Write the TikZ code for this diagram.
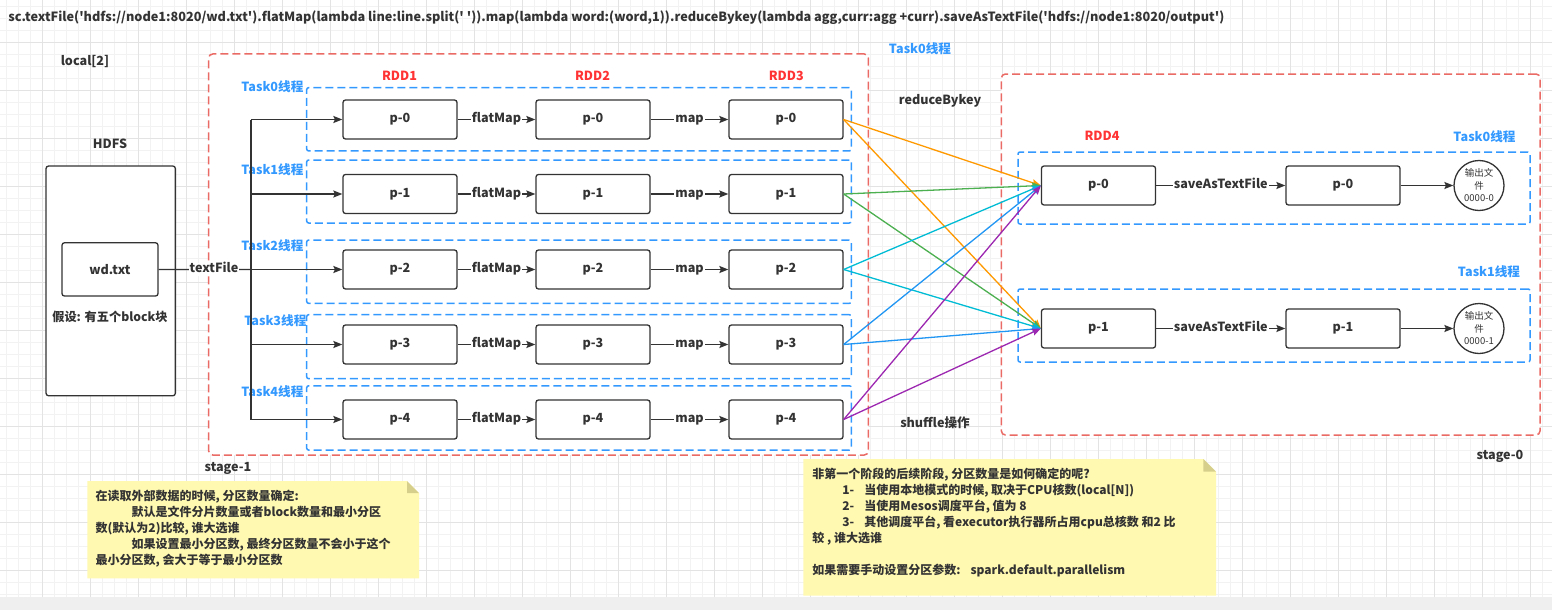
\documentclass[tikz,border=0pt]{standalone}
\usepackage{fontspec}
\setmainfont{Noto Sans CJK SC}
\usetikzlibrary{arrows.meta}

\definecolor{inkgray}{HTML}{333333}
\definecolor{stagered}{HTML}{EA6B66}
\definecolor{rddred}{HTML}{FF3333}
\definecolor{taskblue}{HTML}{3399FF}
\definecolor{notefill}{HTML}{FFF9B2}
\definecolor{notefold}{HTML}{D6CF8C}
\definecolor{gridminor}{HTML}{F2F2F2}
\definecolor{gridmajor}{HTML}{E3E3E3}
\definecolor{pagegray}{HTML}{EFEFEF}
\definecolor{shufora}{HTML}{FF9900}
\definecolor{shufgre}{HTML}{4CAF50}
\definecolor{shufcya}{HTML}{00BCD4}
\definecolor{shufblu}{HTML}{2196F3}
\definecolor{shufpur}{HTML}{9C27B0}

\begin{document}
\begin{tikzpicture}[x=1pt,y=-1pt,>={Stealth[length=9pt,width=7pt,inset=1.5pt]},line width=1.3pt,color=inkgray,
  node distance=193pt,font=\bfseries\fontsize{12.6}{15}\selectfont,
  pbox/.style={draw=inkgray,fill=white,rounded corners=2.5pt,minimum width=114pt,minimum height=39pt},
  stagebox/.style={draw=stagered,fill=white,dash pattern=on 8pt off 4pt,line width=1.5pt,rounded corners=4pt},
  taskbox/.style={draw=taskblue,dash pattern=on 8pt off 4pt,line width=1.5pt,rounded corners=2pt},
  tasklabel/.style={text=taskblue,anchor=east,inner sep=0pt},
  rddlabel/.style={text=rddred},
  elabel/.style={fill=white,inner sep=1pt,text height=8.5pt,text depth=2.5pt},
  outfile/.style={draw=inkgray,fill=white,circle,minimum size=50pt,inner sep=0pt,align=center,font=\fontsize{9.5}{12.5}\selectfont},
  notetext/.style={anchor=north west,align=left,inner sep=0pt,font=\bfseries\fontsize{12}{16}\selectfont}]

\useasboundingbox (0,0) rectangle (1552,610);
\fill[white] (0,0) rectangle (1552,597);
\fill[pagegray] (0,597) rectangle (1552,610);
\draw[gridminor,line width=0.6pt,step=12pt,shift={(6.7,6.3)}] (-6.7,-6.3) grid (1545.3,590.7);
\draw[gridmajor,line width=0.6pt,step=48pt,shift={(42.7,42.3)}] (-42.7,-42.3) grid (1509.3,554.7);

\node[anchor=west,inner sep=0pt,font=\bfseries\fontsize{12.7}{15}\selectfont] (code) at (7.7,17.3) {sc.textFile(\textquotesingle hdfs://node1:8020/wd.txt\textquotesingle).flatMap(lambda line:line.split(\textquotesingle\ \textquotesingle)).map(lambda word:(word,1)).reduceBykey(lambda agg,curr:agg +curr).saveAsTextFile(\textquotesingle hdfs://node1:8020/output\textquotesingle)};
\node (local) at (85,61) {local[2]};

\node[stagebox,minimum width=659.6pt,minimum height=401pt] (stage1) at (538.5,254.5) {};
\node[stagebox,minimum width=538.6pt,minimum height=361pt] (stage0) at (1270.7,254.5) {};
\node (stage1label) at (228,468) {stage-1};
\node (stage0label) at (1500,456) {stage-0};

\node[taskbox,minimum width=544.6pt,minimum height=63.3pt] (task0) at (579,119.3) {};
\node[taskbox,minimum width=544.6pt,minimum height=63pt] (task1) at (579,191.5) {};
\node[taskbox,minimum width=544.6pt,minimum height=63.3pt] (task2) at (579,271.7) {};
\node[taskbox,minimum width=544.6pt,minimum height=64pt] (task3) at (579,346.7) {};
\node[taskbox,minimum width=544.6pt,minimum height=64.3pt] (task4) at (579,417.9) {};
\node[tasklabel] (task0label) at (304,86.7) {Task0线程};
\node[tasklabel] (task1label) at (304,170) {Task1线程};
\node[tasklabel] (task2label) at (304,245.7) {Task2线程};
\node[tasklabel] (task3label) at (307,321) {Task3线程};
\node[tasklabel] (task4label) at (304,391.7) {Task4线程};

\node[rddlabel] (rdd1) at (399.5,75.7) {RDD1};
\node[rddlabel] (rdd2) at (592.5,75.7) {RDD2};
\node[rddlabel] (rdd3) at (786.3,75.7) {RDD3};

\node (hdfslabel) at (110,144) {HDFS};
\node[pbox,minimum width=129.3pt,minimum height=229.7pt] (hdfs) at (110.7,280.9) {};
\node[pbox,minimum width=96pt,minimum height=53.3pt] (wd) at (110,269.4) {wd.txt};
\node[font=\bfseries\fontsize{12.2}{15}\selectfont] (blocks) at (110,317) {假设: 有五个block块};

\node[pbox] (r1p0) at (400,119.5) {p-0};
\node[pbox] (r2p0) [right of=r1p0] {p-0};
\node[pbox] (r3p0) [right of=r2p0] {p-0};
\node[pbox] (r1p1) at (400,194) {p-1};
\node[pbox] (r2p1) [right of=r1p1] {p-1};
\node[pbox] (r3p1) [right of=r2p1] {p-1};
\node[pbox] (r1p2) at (400,269.5) {p-2};
\node[pbox] (r2p2) [right of=r1p2] {p-2};
\node[pbox] (r3p2) [right of=r2p2] {p-2};
\node[pbox] (r1p3) at (400,344.5) {p-3};
\node[pbox] (r2p3) [right of=r1p3] {p-3};
\node[pbox] (r3p3) [right of=r2p3] {p-3};
\node[pbox] (r1p4) at (400,419.5) {p-4};
\node[pbox] (r2p4) [right of=r1p4] {p-4};
\node[pbox] (r3p4) [right of=r2p4] {p-4};

\coordinate (t0) at (251,119.5);
\coordinate (t1) at (251,194);
\coordinate (t2) at (251,269.5);
\coordinate (t3) at (251,344.5);
\coordinate (t4) at (251,419.5);
\draw (t0) -- (t4);
\draw (wd) -- node[elabel,pos=0.6] {textFile} (t2);

\path[->] (t0) edge (r1p0)
          (t1) edge (r1p1)
          (t2) edge (r1p2)
          (t3) edge (r1p3)
          (t4) edge (r1p4);

\path[->] (r1p0) edge node[elabel] {flatMap} (r2p0)
          (r2p0) edge node[elabel] {map} (r3p0)
          (r1p1) edge node[elabel] {flatMap} (r2p1)
          (r2p1) edge node[elabel] {map} (r3p1)
          (r1p2) edge node[elabel] {flatMap} (r2p2)
          (r2p2) edge node[elabel] {map} (r3p2)
          (r1p3) edge node[elabel] {flatMap} (r2p3)
          (r2p3) edge node[elabel] {map} (r3p3)
          (r1p4) edge node[elabel] {flatMap} (r2p4)
          (r2p4) edge node[elabel] {map} (r3p4);

\node[tasklabel,anchor=center] (toplabel) at (920,49) {Task0线程};
\node (reduce) at (940,100.5) {reduceBykey};
\node (shuffle) at (935,423) {shuffle操作};

\node[taskbox,minimum width=512pt,minimum height=72pt] (taskb0) at (1274,188) {};
\node[taskbox,minimum width=512pt,minimum height=73pt] (taskb1) at (1274,325.5) {};
\node[rddlabel] (rdd4) at (1102,136) {RDD4};
\node[tasklabel,anchor=center] (taskb0label) at (1484.5,136.7) {Task0线程};
\node[tasklabel,anchor=center] (taskb1label) at (1489,272) {Task1线程};

\node[pbox] (s0) at (1098.5,185.5) {p-0};
\node[pbox] (w0) [right of=s0,node distance=244.5pt] {p-0};
\node[outfile] (f0) [right of=w0,node distance=136pt] {输出文\\件\\0000-0};
\node[pbox] (s1) at (1098.5,328.5) {p-1};
\node[pbox] (w1) [right of=s1,node distance=244.5pt] {p-1};
\node[outfile] (f1) [right of=w1,node distance=136pt] {输出文\\件\\0000-1};

\path[->] (s0) edge node[elabel] {saveAsTextFile} (w0)
          (w0) edge (f0)
          (s1) edge node[elabel] {saveAsTextFile} (w1)
          (w1) edge (f1);

\path[->,color=shufora] (r3p0.east) edge (s0.west) edge (s1.west);
\path[->,color=shufgre] (r3p1.east) edge (s0.west) edge (s1.west);
\path[->,color=shufcya] (r3p2.east) edge (s0.west) edge (s1.west);
\path[->,color=shufblu] (r3p3.east) edge (s0.west) edge (s1.west);
\path[->,color=shufpur] (r3p4.east) edge (s0.west) edge (s1.west);

\fill[notefill] (87.3,481) -- (407,481) -- (419,493) -- (419,578.3) -- (87.3,578.3) -- cycle;
\fill[notefold] (407,481) -- (419,493) -- (407,493) -- cycle;
\node[notetext] (note1) at (95,489.5) {在读取外部数据的时候, 分区数量确定:\\
\hspace*{36pt}默认是文件分片数量或者block数量和最小分区\\
数(默认为2)比较, 谁大选谁\\
\hspace*{36pt}如果设置最小分区数, 最终分区数量不会小于这个\\
最小分区数, 会大于等于最小分区数};

\fill[notefill] (803.3,459) -- (1203.3,459) -- (1216,471.7) -- (1216,595.7) -- (803.3,595.7) -- cycle;
\fill[notefold] (1203.3,459) -- (1216,471.7) -- (1203.3,471.7) -- cycle;
\node[notetext] (note2) at (811.7,467.8) {非第一个阶段的后续阶段, 分区数量是如何确定的呢?\\
\hspace*{30pt}1-\hspace{10pt}当使用本地模式的时候, 取决于CPU核数(local[N])\\
\hspace*{30pt}2-\hspace{10pt}当使用Mesos调度平台, 值为 8\\
\hspace*{30pt}3-\hspace{10pt}其他调度平台, 看executor执行器所占用cpu总核数 和2 比\\
较 , 谁大选谁\\[16pt]
如果需要手动设置分区参数:\hspace{10pt}spark.default.parallelism};

\end{tikzpicture}
\end{document}
